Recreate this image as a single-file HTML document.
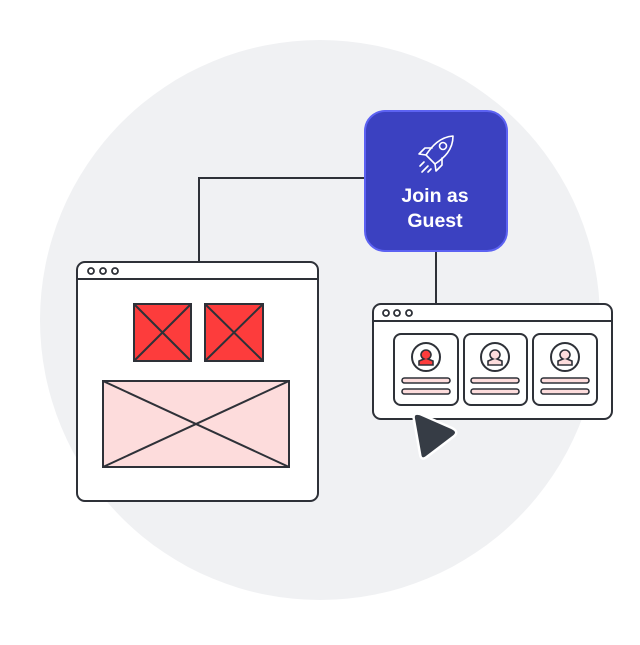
<!DOCTYPE html>
<html><head><style>body{margin:0;width:640px;height:640px;background:#fff;overflow:hidden}</style></head>
<body>
<svg width="640" height="640" viewBox="0 0 640 640" xmlns="http://www.w3.org/2000/svg">
<circle cx="320" cy="320" r="280" fill="#f0f1f3"/>
<g stroke="#2e3138" stroke-width="2" fill="none">
<polyline points="199,262 199,178 366,178"/>
<line x1="436" y1="250" x2="436" y2="304"/>
</g>
<rect x="77" y="262" width="241" height="239" rx="8" fill="#fff" stroke="#2e3138" stroke-width="2"/>
<line x1="77" y1="279" x2="318" y2="279" stroke="#2e3138" stroke-width="2"/>
<g fill="none" stroke="#2e3138" stroke-width="1.8">
<circle cx="91" cy="271" r="3"/><circle cx="103" cy="271" r="3"/><circle cx="115" cy="271" r="3"/>
</g>
<g stroke="#2e3138" stroke-width="2">
<rect x="134" y="304" width="57" height="57" fill="#fd3c3c"/>
<line x1="134" y1="304" x2="191" y2="361"/><line x1="191" y1="304" x2="134" y2="361"/>
<rect x="205" y="304" width="58" height="57" fill="#fd3c3c"/>
<line x1="205" y1="304" x2="263" y2="361"/><line x1="263" y1="304" x2="205" y2="361"/>
<rect x="103" y="381" width="186" height="86" fill="#fddcdc"/>
<line x1="103" y1="381" x2="289" y2="467"/><line x1="289" y1="381" x2="103" y2="467"/>
</g>
<rect x="365" y="111" width="142" height="140" rx="20" fill="#3b41c1" stroke="#5c62f2" stroke-width="2"/>
<g fill="none" stroke="#fff" stroke-width="1.6" stroke-linecap="round" stroke-linejoin="round">
<path d="M453,136 C440,137 432,146 426,155 L435,164 C444,158 453,150 453,136 Z"/>
<circle cx="443" cy="146" r="3.5"/>
<path d="M426,155 L419,154 L425,148 L432,148"/>
<path d="M435,164 L436,171 L442,165 L442,158"/>
<line x1="424" y1="162" x2="420" y2="166"/><line x1="428" y1="166" x2="422" y2="172"/><line x1="431" y1="169" x2="428" y2="172"/>
</g>
<text x="435" y="202" text-anchor="middle" font-family="Liberation Sans, sans-serif" font-weight="bold" font-size="19.5" fill="#fff">Join as</text>
<text x="435" y="227" text-anchor="middle" font-family="Liberation Sans, sans-serif" font-weight="bold" font-size="19.5" fill="#fff">Guest</text>
<rect x="373" y="304" width="239" height="115" rx="8" fill="#fff" stroke="#2e3138" stroke-width="2"/>
<line x1="373" y1="321" x2="612" y2="321" stroke="#2e3138" stroke-width="2"/>
<g fill="none" stroke="#2e3138" stroke-width="1.8">
<circle cx="386" cy="313" r="3"/><circle cx="397" cy="313" r="3"/><circle cx="409" cy="313" r="3"/>
</g>
<g stroke="#2e3138" stroke-width="2">
<rect x="394" y="334" width="64" height="71" rx="7" fill="#fff"/>
<rect x="464" y="334" width="63" height="71" rx="7" fill="#fff"/>
<rect x="533" y="334" width="64" height="71" rx="7" fill="#fff"/>
<circle cx="426" cy="357" r="14" fill="#fff"/>
<circle cx="495" cy="357" r="14" fill="#fff"/>
<circle cx="565" cy="357" r="14" fill="#fff"/>
<path d="M421,355 a5,5 0 1 1 10,0 a5,5 0 0 1 -3,4 l5,2 v4 h-14 v-4 l5,-2 a5,5 0 0 1 -3,-4z" fill="#fd3c3c" stroke-width="1.6"/>
<path d="M490,355 a5,5 0 1 1 10,0 a5,5 0 0 1 -3,4 l5,2 v4 h-14 v-4 l5,-2 a5,5 0 0 1 -3,-4z" fill="#fddcdc" stroke-width="1.6"/>
<path d="M560,355 a5,5 0 1 1 10,0 a5,5 0 0 1 -3,4 l5,2 v4 h-14 v-4 l5,-2 a5,5 0 0 1 -3,-4z" fill="#fddcdc" stroke-width="1.6"/>
<g fill="#fddcdc" stroke-width="1.6">
<rect x="402" y="378" width="48" height="5" rx="2.5"/><rect x="402" y="389" width="48" height="5" rx="2.5"/>
<rect x="471" y="378" width="48" height="5" rx="2.5"/><rect x="471" y="389" width="48" height="5" rx="2.5"/>
<rect x="541" y="378" width="48" height="5" rx="2.5"/><rect x="541" y="389" width="48" height="5" rx="2.5"/>
</g>
</g>
<path d="M414,420 Q412,412 420,414 L452,428 Q460,432 453,437 L428,456 Q421,462 420,454 Z" fill="#363c45" stroke="#fff" stroke-width="2.5" stroke-linejoin="round"/>
</svg>
</body></html>
